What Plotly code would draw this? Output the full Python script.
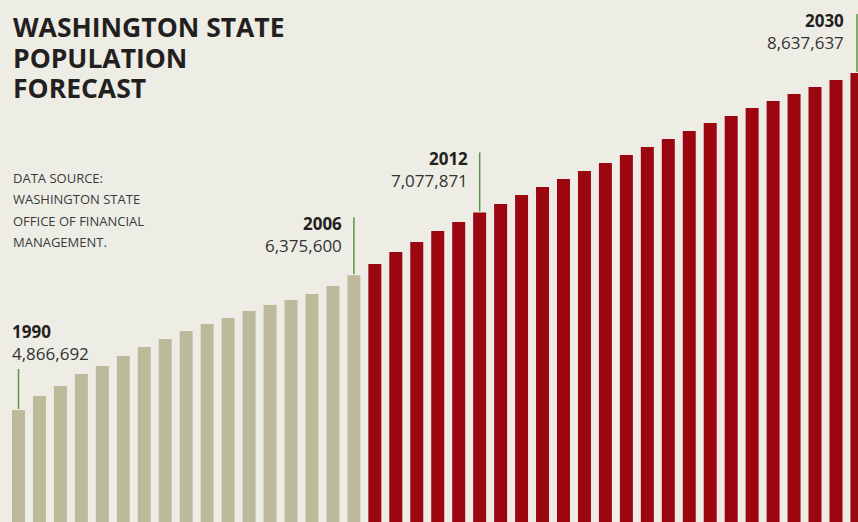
import plotly.graph_objects as go

years = list(range(1990, 2031))
population = [
    4866692, 5023000, 5135000, 5270000, 5359000, 5471000, 5572000, 5661000,
    5751000, 5829000, 5896000, 5974000, 6042000, 6098000, 6165000, 6254000,
    6375600, 6500000, 6635000, 6747000, 6870000, 6970000, 7077871, 7172000,
    7273000, 7362000, 7452000, 7541000, 7631000, 7720000, 7810000, 7899000,
    7989000, 8078000, 8157000, 8246000, 8324000, 8403000, 8481000, 8559000,
    8637637,
]
last_actual_year = 2006
highlight_years = [1990, 2006, 2012, 2030]
title_lines = ["WASHINGTON STATE", "POPULATION", "FORECAST"]
source_lines = ["DATA SOURCE:", "WASHINGTON STATE", "OFFICE OF FINANCIAL", "MANAGEMENT."]

BG = "#EEEDE5"
GRAY = "#BDBA9C"
RED = "#9C0610"
GREEN = "#5E9447"
DARK = "#231F20"
NUM = "#333333"
FONT = "Open Sans"

colors = [GRAY if y <= last_actual_year else RED for y in years]

fig = go.Figure(go.Bar(
    x=years, y=population, marker=dict(color=colors, line=dict(width=0)),
    width=0.62, hoverinfo="skip",
))

pop_of = dict(zip(years, population))
# label settings: (anchor, xshift, leader line length px, label block yshift)
label_cfg = {
    1990: ("left", -8, 41, 68),
    2006: ("right", -11, 58, 40.5),
    2012: ("right", -11, 60, 42.5),
    2030: ("right", -12, 59, 42),
}
shapes = []
annotations = []
for yr in highlight_years:
    v = pop_of[yr]
    anchor, xs, ln, ys = label_cfg[yr]
    shapes.append(dict(type="line", xref="x", yref="y", ysizemode="pixel",
                       yanchor=v, x0=yr, x1=yr, y0=1, y1=ln,
                       line=dict(color=GREEN, width=1.5)))
    annotations.append(dict(x=yr, y=v, xref="x", yref="y",
                            text=f"<b>{yr}</b><br><span style='color:{NUM}'>{v:,}</span>",
                            showarrow=False, xanchor=anchor, yanchor="middle",
                            align=anchor, xshift=xs, yshift=ys, borderpad=0,
                            font=dict(family=FONT, size=17, color=DARK)))

W, H = 858, 522
title_text = "<br>".join(f"<span style='font-size:26.5px'><b>{t}</b></span>" for t in title_lines)
annotations.append(dict(x=12 / W, y=1 - 57.5 / H, xref="paper", yref="paper",
                        text=title_text, showarrow=False, align="left",
                        xanchor="left", yanchor="middle", borderpad=0,
                        font=dict(family=FONT, size=23.5, color=DARK)))
source_text = "<br>".join(f"<span style='font-size:13px'>{t}</span>" for t in source_lines)
annotations.append(dict(x=12 / W, y=1 - (178 + 1.5 * 21.3) / H, xref="paper", yref="paper",
                        text=source_text, showarrow=False, align="left",
                        xanchor="left", yanchor="middle", borderpad=0,
                        font=dict(family=FONT, size=16.4, color="#3A3A3A")))

fig.update_layout(
    width=W, height=H, margin=dict(l=0, r=0, t=0, b=0),
    paper_bgcolor=BG, plot_bgcolor=BG, showlegend=False,
    xaxis=dict(visible=False, range=[1989.117, 2030.05]),
    yaxis=dict(visible=False, range=[3613400, 9454600]),
    shapes=shapes, annotations=annotations,
)
fig.write_html(
    "out.html",
    config={"displayModeBar": False},
    post_script="document.body.style.margin='0';document.body.style.background='#EEEDE5';",
)
